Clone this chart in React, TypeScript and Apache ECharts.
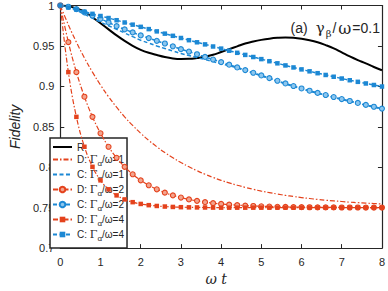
import React, { useEffect, useRef } from 'react';
import * as echarts from 'echarts';

// time axis (omega t)
const T = [0, 0.2, 0.4, 0.6, 0.8, 1, 1.2, 1.4, 1.6, 1.8, 2, 2.2, 2.4, 2.6, 2.8, 3, 3.2, 3.4, 3.6, 3.8, 4, 4.2, 4.4, 4.6, 4.8, 5, 5.2, 5.4, 5.6, 5.8, 6, 6.2, 6.4, 6.6, 6.8, 7, 7.2, 7.4, 7.6, 7.8, 8];

const R_VALUES = [1.0, 0.999, 0.9965, 0.9925, 0.9855, 0.978, 0.9705, 0.963, 0.9562, 0.9502, 0.9452, 0.9415, 0.9387, 0.9362, 0.9345, 0.9338, 0.934, 0.935, 0.9365, 0.939, 0.9425, 0.946, 0.9495, 0.953, 0.9555, 0.9575, 0.959, 0.96, 0.9605, 0.96, 0.9588, 0.957, 0.9545, 0.951, 0.947, 0.942, 0.937, 0.9325, 0.9285, 0.924, 0.92];

const D1_VALUES = [1.0, 0.9762, 0.9547, 0.9352, 0.9176, 0.9016, 0.8872, 0.8742, 0.8623, 0.8517, 0.842, 0.8332, 0.8253, 0.8181, 0.8117, 0.8058, 0.8005, 0.7957, 0.7913, 0.7874, 0.7838, 0.7806, 0.7777, 0.7751, 0.7727, 0.7705, 0.7686, 0.7668, 0.7652, 0.7638, 0.7625, 0.7613, 0.7602, 0.7592, 0.7584, 0.7576, 0.7568, 0.7562, 0.7556, 0.7551, 0.7546];

const C1_VALUES = [1.0, 0.9982, 0.9942, 0.989, 0.9845, 0.9795, 0.975, 0.9705, 0.966, 0.9615, 0.957, 0.9535, 0.95, 0.9468, 0.9437, 0.9407, 0.9382, 0.9357, 0.9332, 0.9306, 0.928, 0.9255, 0.9228, 0.9196, 0.9163, 0.913, 0.9097, 0.9064, 0.9031, 0.8999, 0.8969, 0.8941, 0.8914, 0.8888, 0.8863, 0.8838, 0.8814, 0.879, 0.8766, 0.8743, 0.872];

const D2_VALUES = [1.0, 0.9547, 0.9176, 0.8872, 0.8623, 0.842, 0.8253, 0.8117, 0.8005, 0.7913, 0.7838, 0.7777, 0.7727, 0.7686, 0.7652, 0.7625, 0.7602, 0.7584, 0.7568, 0.7556, 0.7546, 0.7537, 0.7531, 0.7525, 0.7521, 0.7517, 0.7514, 0.7511, 0.7509, 0.7508, 0.7506, 0.7505, 0.7504, 0.7503, 0.7503, 0.7502, 0.7502, 0.7502, 0.7501, 0.7501, 0.7501];

const C2_VALUES = [1.0, 0.9985, 0.9955, 0.9915, 0.9875, 0.9835, 0.979, 0.9745, 0.9705, 0.9667, 0.963, 0.9597, 0.9563, 0.953, 0.9495, 0.946, 0.943, 0.9397, 0.9364, 0.9332, 0.93, 0.9268, 0.9234, 0.9201, 0.9168, 0.9135, 0.9102, 0.9069, 0.9036, 0.9004, 0.8974, 0.8946, 0.8919, 0.8893, 0.8868, 0.8843, 0.8819, 0.8795, 0.8771, 0.8748, 0.8725];

const D4_VALUES = [1.0, 0.9176, 0.8623, 0.8253, 0.8005, 0.7838, 0.7727, 0.7652, 0.7602, 0.7568, 0.7546, 0.7531, 0.7521, 0.7514, 0.7509, 0.7506, 0.7504, 0.7503, 0.7502, 0.7501, 0.75, 0.75, 0.75, 0.75, 0.75, 0.75, 0.75, 0.75, 0.75, 0.75, 0.75, 0.75, 0.75, 0.75, 0.75, 0.75, 0.75, 0.75, 0.75, 0.75, 0.75];

const C4_VALUES = [1.0, 0.9975, 0.995, 0.9923, 0.9897, 0.987, 0.9845, 0.9818, 0.979, 0.9763, 0.9736, 0.9708, 0.968, 0.9652, 0.9625, 0.9598, 0.9571, 0.9545, 0.9519, 0.9493, 0.9467, 0.9441, 0.9415, 0.9389, 0.9363, 0.9337, 0.9311, 0.9285, 0.9259, 0.9234, 0.921, 0.9186, 0.9163, 0.9141, 0.9119, 0.9097, 0.9076, 0.9056, 0.9036, 0.9017, 0.8998];

const SERIES_KEYS = ['R', 'D1', 'C1', 'D2', 'C2', 'D4', 'C4'];
const NO_MARKER_KEYS = ['R', 'D1', 'C1'];
const LEGEND_LABELS: Record<string, string> = {
  R: '{r|R}',
  D1: '{t|D: }{g|Γ}{s|α}{t|/ω=1}',
  C1: '{t|C: }{g|Γ}{s|α}{t|/ω=1}',
  D2: '{t|D: }{g|Γ}{s|α}{t|/ω=2}',
  C2: '{t|C: }{g|Γ}{s|α}{t|/ω=2}',
  D4: '{t|D: }{g|Γ}{s|α}{t|/ω=4}',
  C4: '{t|C: }{g|Γ}{s|α}{t|/ω=4}',
};

const X_TICKS = { min: 0, max: 8, interval: 1 };
const Y_TICKS = { min: 0.7, max: 1, interval: 0.05 };

const RED = '#e4421c';
const RED_LIGHT = '#f3a48e';
const BLUE = '#1c88d4';
const BLUE_LIGHT = '#8cc6ee';
const INK = '#262626';
const FONT = 'Liberation Sans, Arial, Helvetica, sans-serif';
const SERIF = 'DejaVu Serif, Liberation Serif, serif';

export default function App() {
  const ref = useRef<HTMLDivElement>(null);
  useEffect(() => {
    const chart = echarts.init(ref.current as HTMLDivElement, null, { renderer: 'svg' });
    const pts = (ys: number[]) => T.map((t, i) => [t, ys[i]]);
    const dashDot = [5, 2, 1.5, 2];
    const dash = [4, 2.5];

    const axisCommon = {
      type: 'value',
      axisLine: { show: true, onZero: false, lineStyle: { color: INK, width: 1.2 } },
      axisTick: { show: true, inside: true, length: 4, lineStyle: { color: INK, width: 1 } },
      splitLine: { show: false },
    };

    chart.setOption({
      animation: false,
      backgroundColor: '#fff',
      grid: { left: 44, right: 4, top: 5, bottom: 38 },
      xAxis: [
        {
          ...axisCommon,
          ...X_TICKS,
          position: 'bottom',
          axisLabel: { color: INK, fontSize: 11, margin: 8, fontFamily: FONT },
          name: 'ω t',
          nameLocation: 'middle',
          nameGap: 22,
          nameTextStyle: { fontStyle: 'italic', fontSize: 14, color: INK, fontFamily: SERIF, padding: [0, 10, 0, 0] },
        },
        {
          ...axisCommon,
          ...X_TICKS,
          position: 'top',
          axisLabel: { show: false },
        },
      ],
      yAxis: [
        {
          ...axisCommon,
          ...Y_TICKS,
          position: 'left',
          axisLabel: {
            color: INK,
            fontSize: 11,
            margin: 6,
            fontFamily: FONT,
            formatter: (v: number) => String(Math.round(v * 100) / 100),
          },
          name: 'Fidelity',
          nameLocation: 'middle',
          nameGap: 31,
          nameTextStyle: { fontStyle: 'italic', fontSize: 14, color: INK, fontFamily: FONT },
        },
        {
          ...axisCommon,
          ...Y_TICKS,
          position: 'right',
          axisLabel: { show: false },
        },
      ],
      legend: {
        orient: 'vertical',
        left: 50,
        top: 138,
        backgroundColor: '#fff',
        borderColor: INK,
        borderWidth: 1.5,
        borderRadius: 0,
        padding: [4, 3, 6, 2],
        itemWidth: 19,
        itemHeight: 7,
        itemGap: 0,
        data: SERIES_KEYS.map((k) =>
          NO_MARKER_KEYS.includes(k) ? { name: k, itemStyle: { opacity: 0 } } : { name: k }
        ),
        formatter: (name: string) => LEGEND_LABELS[name],
        textStyle: {
          color: INK,
          fontSize: 10,
          fontFamily: FONT,
          rich: {
            r: { fontSize: 10, lineHeight: 9.6, color: INK, fontFamily: FONT },
            t: { fontSize: 10, lineHeight: 12, color: INK, fontFamily: FONT },
            g: { fontSize: 11, lineHeight: 12, color: INK, fontFamily: SERIF },
            s: { fontSize: 8, lineHeight: 8, color: INK, fontFamily: FONT, padding: [7, 0, 0, 0] },
          },
        },
      },
      graphic: [
        {
          type: 'text',
          right: 8,
          top: 18,
          style: {
            text: '{a|(a)}{gy|γ}{s|β}{t|/}{gw|ω}{t|=0.1}',
            fill: INK,
            rich: {
              a: { fontSize: 14, lineHeight: 16, fill: INK, fontFamily: FONT, padding: [0, 7, 0, 0] },
              t: { fontSize: 14, lineHeight: 16, fill: INK, fontFamily: FONT },
              gy: { fontSize: 15, lineHeight: 16, fill: INK, fontFamily: SERIF, padding: [0, 1, 0, 1] },
              gw: { fontSize: 16, lineHeight: 16, fill: INK, fontFamily: SERIF, padding: [0, 1, 0, 2] },
              s: { fontSize: 10, lineHeight: 10, fill: INK, fontFamily: SERIF, padding: [10, 1, 0, 0] },
            },
          },
        },
      ],
      series: [
        {
          name: 'R', type: 'line', data: pts(R_VALUES), symbol: 'none', smooth: 0.4,
          lineStyle: { color: '#000', width: 2 }, itemStyle: { color: '#000' }, z: 2,
        },
        {
          name: 'D1', type: 'line', data: pts(D1_VALUES), symbol: 'none', smooth: 0.4,
          lineStyle: { color: RED, width: 1.2, type: dashDot }, itemStyle: { color: RED }, z: 3,
        },
        {
          name: 'C1', type: 'line', data: pts(C1_VALUES), symbol: 'none', smooth: 0.4,
          lineStyle: { color: BLUE, width: 1.5, type: dash }, itemStyle: { color: BLUE }, z: 3,
        },
        {
          name: 'D2', type: 'line', data: pts(D2_VALUES), symbol: 'circle', symbolSize: 5, smooth: 0.4,
          lineStyle: { color: RED, width: 1.2, type: dashDot },
          itemStyle: { color: RED_LIGHT, borderColor: RED, borderWidth: 1.1 }, z: 4,
        },
        {
          name: 'C2', type: 'line', data: pts(C2_VALUES), symbol: 'circle', symbolSize: 5, smooth: 0.4,
          lineStyle: { color: BLUE, width: 1.5, type: dash },
          itemStyle: { color: BLUE_LIGHT, borderColor: BLUE, borderWidth: 1.1 }, z: 4,
        },
        {
          name: 'D4', type: 'line', data: pts(D4_VALUES), symbol: 'rect', symbolSize: 4.5, smooth: 0.4,
          lineStyle: { color: RED, width: 1.2, type: dashDot },
          itemStyle: { color: RED }, z: 5,
        },
        {
          name: 'C4', type: 'line', data: pts(C4_VALUES), symbol: 'rect', symbolSize: 4.5, smooth: 0.4,
          lineStyle: { color: BLUE, width: 1.5, type: dash },
          itemStyle: { color: BLUE }, z: 5,
        },
      ],
    });
    return () => chart.dispose();
  }, []);
  return <div ref={ref} style={{ width: 388, height: 291, position: 'absolute', left: 0, top: 0 }} />;
}
